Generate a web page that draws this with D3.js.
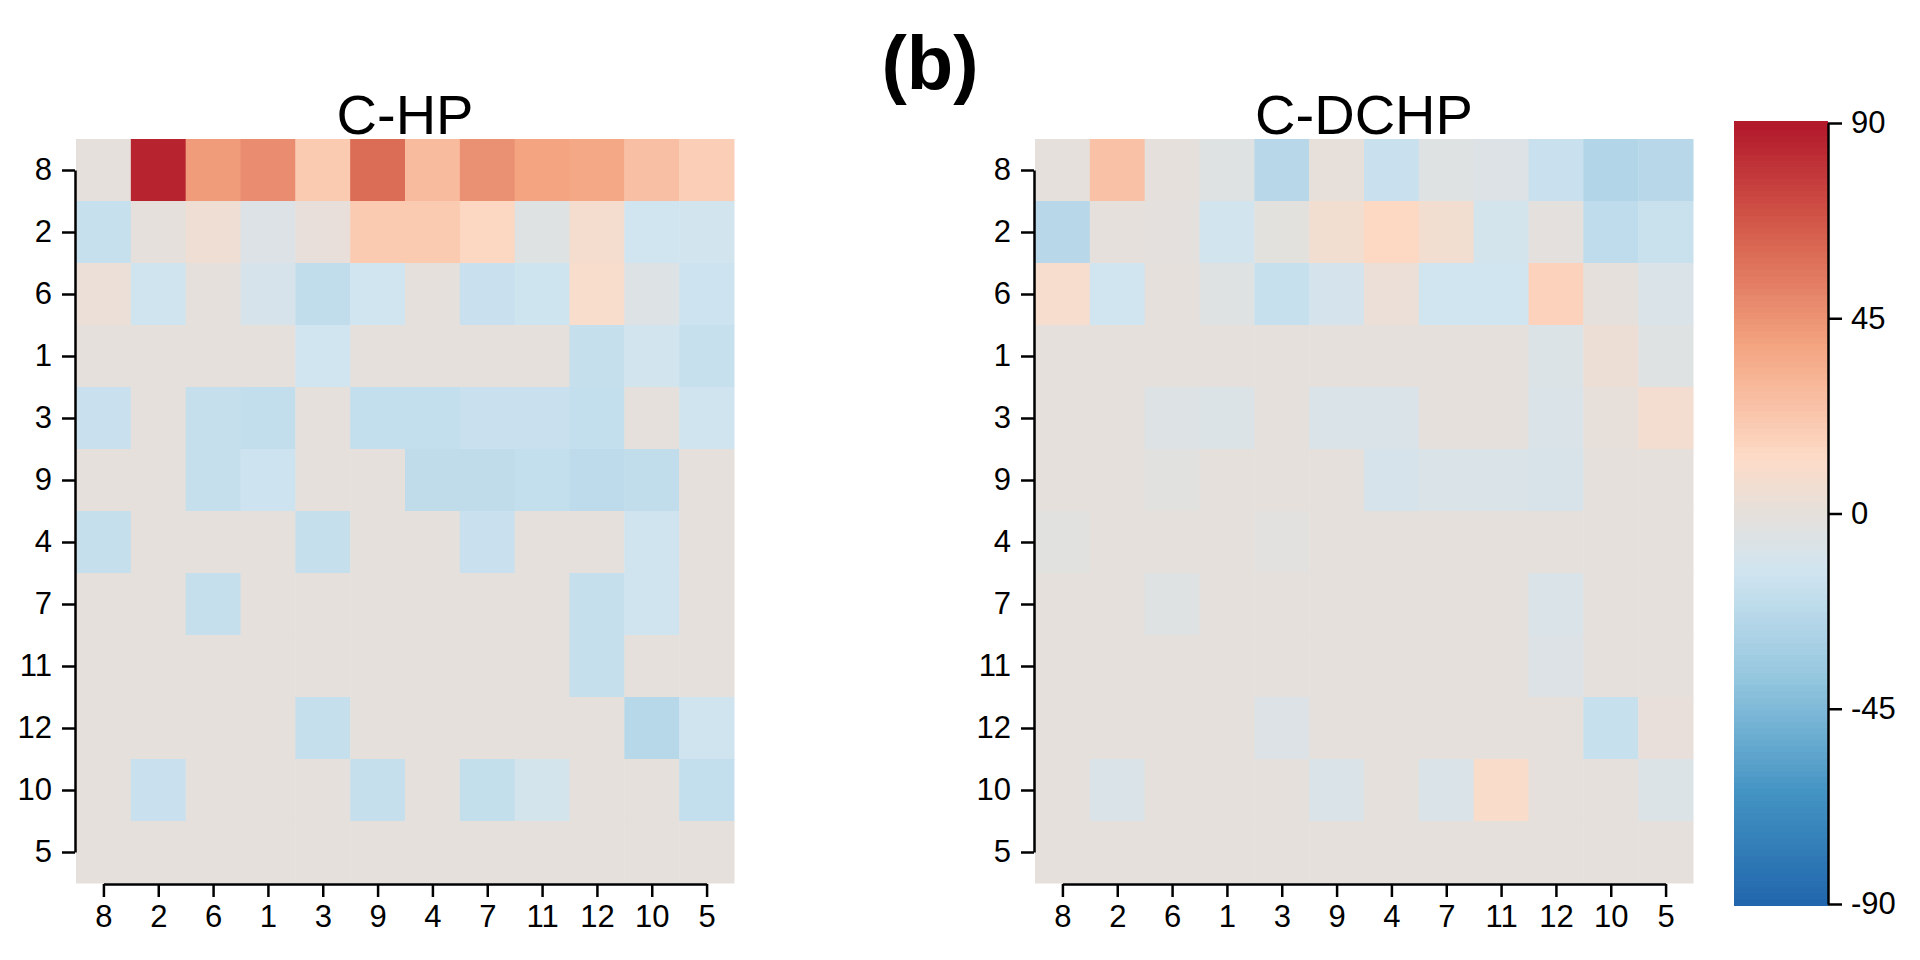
<!DOCTYPE html>
<html>
<head>
<meta charset="utf-8">
<script src="https://cdn.jsdelivr.net/npm/d3@7"></script>
<style>
  body { margin: 0; background: #fff; }
  svg { display: block; }
  text { font-family: "Liberation Sans", Arial, sans-serif; fill: #000; }
</style>
</head>
<body>
<svg id="chart" width="1920" height="960"></svg>
<script>
// row / column order of both matrices (top to bottom, left to right)
const rowLabels = ["8", "2", "6", "1", "3", "9", "4", "7", "11", "12", "10", "5"];
const colLabels = ["8", "2", "6", "1", "3", "9", "4", "7", "11", "12", "10", "5"];

// C-HP values, one array per row
const hpValues = [
  [0, 86, 42, 48, 21, 60, 28, 46, 39, 37, 26, 19],
  [-17, 0, 5, -6, 1.5, 21, 21, 15, -4, 8, -13, -12.5],
  [3, -13.5, 0, -9, -19.5, -13, 0, -16, -14, 10, -5, -14.5],
  [0, 0, 0, 0, -13, 0, 0, 0, 0, -17.5, -12, -17],
  [-16, 0, -17.5, -19, 0, -18.5, -18.5, -16, -16, -18.5, 0, -13.5],
  [0, 0, -17.5, -14.5, 0, 0, -20, -20, -18.5, -21, -19.5, 0],
  [-17.5, 0, 0, 0, -17.5, 0, 0, -16, 0, 0, -13.5, 0],
  [0, 0, -17.5, 0, 0, 0, 0, 0, 0, -17.5, -13.5, 0],
  [0, 0, 0, 0, 0, 0, 0, 0, 0, -17.5, 0, 0],
  [0, 0, 0, 0, -17.5, 0, 0, 0, 0, 0, -23.5, -13.5],
  [0, -16, 0, 0, 0, -17.5, 0, -18, -11, 0, 0, -18.5],
  [0, 0, 0, 0, 0, 0, 0, 0, 0, 0, 0, 0]
];

// C-DCHP values, one array per row
const dchpValues = [
  [0, 25, 0, -4.5, -23, 1, -16, -4, -6, -16, -25.5, -23],
  [-23, 0, -1, -12, -1.5, 7, 14, 7, -11, -0.5, -20.5, -16.5],
  [9, -13, 0, -4, -17, -10, 3, -13, -13, 17, 0, -7],
  [0, 0, 0, 0, 0, 0, 0, 0, 0, -6.5, 4, -4],
  [0, 0, -5, -6.5, 0, -7, -7, 0, 0, -7.5, 1, 7.5],
  [0, 0, -2.5, 0, 0, 0, -9, -7.5, -7.5, -8.5, 0, 0],
  [-2.5, 0, 0, 0, -2, 0, 0, 0, 0, 0, 0, 0],
  [0, 0, -4.5, 0, 0, 0, 0, 0, 0, -7, 0, 0],
  [0, 0, 0, 0, 0, 0, 0, 0, 0, -6, 0, 0],
  [0, 0, 0, 0, -6, 0, 0, 0, 0, 0, -17, 1.5],
  [0, -7, 0, 0, 0, -8, 0, -7.5, 11, 0, 0, -6.5],
  [0, 0, 0, 0, 0, 0, 0, 0, 0, 0, 0, 0]
];

const panelTitles = ["C-HP", "C-DCHP"];
const legendTicks = [90, 45, 0, -45, -90];

const palette = ["#B2182B", "#D6604D", "#F4A582", "#FDDBC7", "#E5E0DC", "#D1E5F0", "#92C5DE", "#4393C3", "#2166AC"];
const paletteAt = [90, 64.3, 38.6, 12.9, 0, -12.9, -38.6, -64.3, -90];

const svg = d3.select("#chart");
const FONT = 31;

let color = d3.scaleLinear()
  .domain(paletteAt)
  .range(palette)
  .interpolate(d3.interpolateRgb)
  .clamp(true);

// overall label
svg.append("text")
  .attr("x", 930)
  .attr("y", 89)
  .attr("text-anchor", "middle")
  .attr("font-size", 76)
  .attr("font-weight", "bold")
  .text("(b)");

function drawPanel(values, title, left) {
  const top = 139, w = 658, h = 744;
  let g = svg.append("g");

  let x = d3.scaleBand().domain(colLabels).range([left, left + w]);
  let y = d3.scaleBand().domain(rowLabels).range([top, top + h]);

  let cells = [];
  values.forEach((row, i) => row.forEach((v, j) => cells.push({ r: rowLabels[i], c: colLabels[j], v: v })));

  g.selectAll("rect")
    .data(cells)
    .enter()
    .append("rect")
    .attr("x", (d) => x(d.c))
    .attr("y", (d) => y(d.r))
    .attr("width", x.bandwidth() + 0.5)
    .attr("height", y.bandwidth() + 0.5)
    .attr("fill", (d) => color(d.v));

  g.append("text")
    .attr("x", left + w / 2)
    .attr("y", top - 5)
    .attr("text-anchor", "middle")
    .attr("font-size", 56)
    .text(title);

  // R style axes: line runs from first to last tick only
  let xp = d3.scalePoint().domain(colLabels)
    .range([x(colLabels[0]) + x.bandwidth() / 2, x(colLabels[colLabels.length - 1]) + x.bandwidth() / 2]);
  let yp = d3.scalePoint().domain(rowLabels)
    .range([y(rowLabels[0]) + y.bandwidth() / 2, y(rowLabels[rowLabels.length - 1]) + y.bandwidth() / 2]);

  let xAxis = g.append("g")
    .attr("transform", "translate(0," + (top + h + 1) + ")")
    .call(d3.axisBottom(xp).tickSize(13).tickSizeOuter(0).tickPadding(8));

  let yAxis = g.append("g")
    .attr("transform", "translate(" + (left - 1) + ",0)")
    .call(d3.axisLeft(yp).tickSize(13).tickSizeOuter(0).tickPadding(10));

  [xAxis, yAxis].forEach((a) => {
    a.selectAll("path, line").attr("stroke", "#000").attr("stroke-width", 2.5);
    a.selectAll("text").attr("font-size", FONT).attr("font-family", null).attr("fill", "#000");
  });
}

drawPanel(hpValues, panelTitles[0], 76);
drawPanel(dchpValues, panelTitles[1], 1035);

// colour bar
const barX = 1734, barW = 94;
let legendScale = d3.scaleLinear().domain([-90, 90]).range([904, 123]);
const nSteps = 128, stepSize = 180 / nSteps;
let steps = d3.range(nSteps).map((i) => -90 + i * stepSize);
let legend = svg.append("g").attr("shape-rendering", "crispEdges");
legend.selectAll("rect")
  .data(steps)
  .enter()
  .append("rect")
  .attr("x", barX)
  .attr("width", barW)
  .attr("y", (d, i) => (i === nSteps - 1 ? 121 : legendScale(d + stepSize)))
  .attr("height", (d, i) => {
    let y0 = i === 0 ? 905 : legendScale(d);
    let y1 = i === nSteps - 1 ? 121 : legendScale(d + stepSize);
    return y0 - y1 + 1;
  })
  .attr("fill", (d) => color(d + stepSize / 2));

let legendAxis = svg.append("g")
  .attr("transform", "translate(" + (barX + barW) + ",0)")
  .call(d3.axisRight(legendScale).tickValues(legendTicks).tickFormat((d) => String(d))
    .tickSize(14).tickSizeOuter(0).tickPadding(9));
legendAxis.selectAll("path, line").attr("stroke", "#000").attr("stroke-width", 2.5);
legendAxis.selectAll("text").attr("font-size", FONT).attr("font-family", null).attr("fill", "#000");
</script>
</body>
</html>
